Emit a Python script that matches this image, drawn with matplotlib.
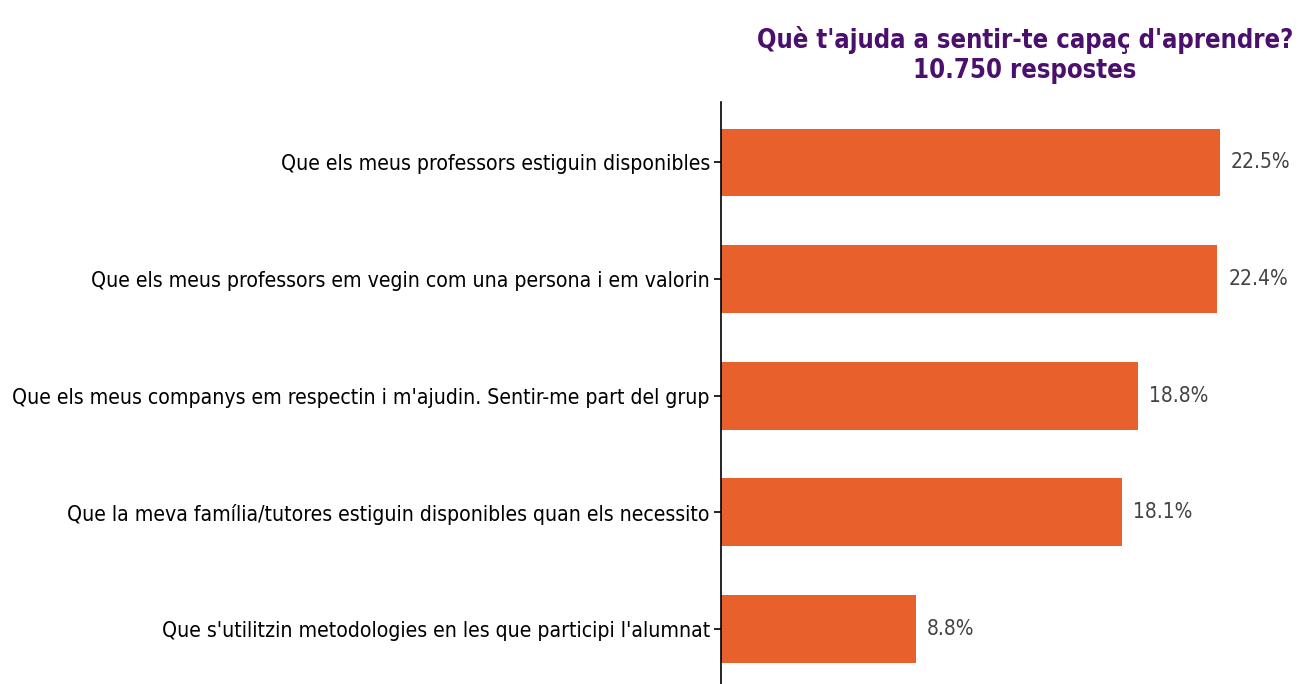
import matplotlib.pyplot as plt

categories = [
    "Que els meus professors estiguin disponibles",
    "Que els meus professors em vegin com una persona i em valorin",
    "Que els meus companys em respectin i m'ajudin. Sentir-me part del grup",
    "Que la meva família/tutores estiguin disponibles quan els necessito",
    "Que s'utilitzin metodologies en les que participi l'alumnat",
]
values = [22.5, 22.4, 18.8, 18.1, 8.8]

title = "Què t'ajuda a sentir-te capaç d'aprendre?\n10.750 respostes"
bar_color = "#E8612C"
title_color = "#4B0F6E"

plt.rcParams['font.family'] = ['DejaVu Sans']
plt.rcParams['font.stretch'] = 'condensed'

fig = plt.figure(figsize=(12.99, 6.84), dpi=100)
ax = fig.add_axes([0.555, -0.008, 0.4727, 0.859])

y = range(len(categories))
bars = ax.barh(y, values, height=0.58, color=bar_color)
ax.invert_yaxis()
ax.set_xlim(0, 27.7)

ax.set_yticks(list(y))
ax.set_yticklabels(categories, fontsize=15.2, fontstretch='condensed')
ax.tick_params(axis='y', length=5, width=1.2, pad=3)
ax.xaxis.set_visible(False)
for side in ['top', 'right', 'bottom']:
    ax.spines[side].set_visible(False)
ax.spines['left'].set_linewidth(1.2)

for bar, v in zip(bars, values):
    ax.text(bar.get_width() + 0.5, bar.get_y() + bar.get_height() / 2,
            f"{v}%", va='center', ha='left', fontsize=15, color='#444444',
            fontstretch='condensed')

ax.set_title(title, fontsize=18.4, fontweight='bold', color=title_color,
             pad=17, fontstretch='condensed', x=0.495)

fig.savefig("out.png", dpi=100)
